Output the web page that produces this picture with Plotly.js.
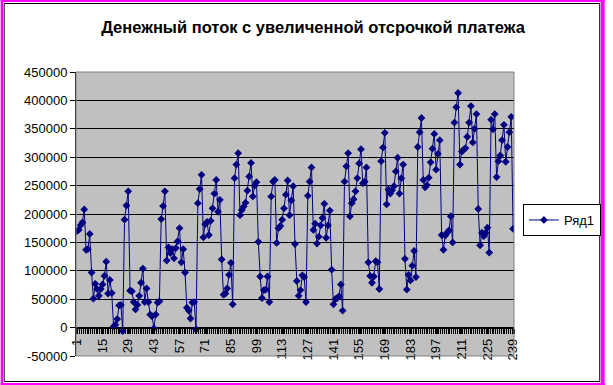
<!DOCTYPE html>
<html>
<head>
<meta charset="utf-8">
<script src="https://cdn.plot.ly/plotly-3.0.1.min.js"></script>
<style>
html,body{margin:0;padding:0;background:#fff;}
#chart{width:613px;height:385px;}
</style>
</head>
<body>
<div id="chart"></div>
<script>
const chartTitle = "Денежный поток с увеличенной отсрочкой платежа";
const seriesName = "Ряд1";

const values = [
  170000, 172000, 180000, 185000, 208000, 137000, 138000, 165000, 97000, 51000,
  77000, 68000, 56000, 68000, 76000, 91000, 116000, 60000, 84000, 61000,
  2000, 5000, 15000, 39000, 40000, -6000,
  190000, 215000, 240000, 65000, 64000, 45000, 32000, 40000, 56000, 79000,
  104000, 45000, 69000, 45000, 23000, 20000, -1000, 23000, 44000, 46000,
  191000, 214000, 240000, 118000, 141000, 131000, 138000, 122000, 140000, 152000,
  175000, 115000, 138000, 97000, 35000, 30000, 16000, 44000, 45000, -3000,
  219000, 244000, 269000, 159000, 182000, 186000, 163000, 188000, 210000, 236000,
  260000, 204000, 225000, 120000, 58000, 60000, 69000, 93000, 114000, 41000,
  263000, 287000, 307000, 198000, 207000, 213000, 220000, 241000, 266000, 290000,
  231000, 250000, 256000, 151000, 90000, 52000, 66000, 67000, 90000, 45000,
  231000, 257000, 260000, 149000, 175000, 179000, 190000, 210000, 234000, 259000,
  198000, 224000, 249000, 147000, 82000, 56000, 66000, 92000, 89000, 45000,
  232000, 257000, 282000, 172000, 183000, 148000, 160000, 180000, 193000, 218000,
  158000, 180000, 206000, 102000, 41000, 50000, 52000, 55000, 76000, 30000,
  257000, 284000, 307000, 196000, 219000, 226000, 240000, 263000, 289000, 314000,
  254000, 257000, 282000, 115000, 91000, 79000, 90000, 117000, 115000, 68000,
  293000, 317000, 343000, 217000, 243000, 236000, 242000, 249000, 275000, 299000,
  236000, 263000, 287000, 121000, 67000, 93000, 83000, 109000, 135000, 89000,
  318000, 344000, 369000, 260000, 247000, 251000, 264000, 291000, 315000, 341000,
  278000, 306000, 330000, 163000, 137000, 162000, 167000, 171000, 196000, 150000,
  361000, 388000, 413000, 287000, 310000, 313000, 316000, 336000, 361000, 390000,
  326000, 350000, 376000, 209000, 145000, 167000, 161000, 167000, 176000, 132000,
  366000, 349000, 376000, 265000, 293000, 303000, 330000, 357000, 292000, 318000,
  344000, 371000, 174000
];

const categories = values.map((v, i) => i + 1);
const yTickVals = [-50000, 0, 50000, 100000, 150000, 200000, 250000, 300000, 350000, 400000, 450000];
const yTickText = yTickVals.map(v => String(v));
const xFirstTick = 1, xTickStep = 14;
const yMin = yTickVals[0], yMax = yTickVals[yTickVals.length - 1];

const W = 613, H = 385;
const M = {l: 76, r: 95, t: 72, b: 29};
const pw = W - M.l - M.r, ph = H - M.t - M.b;
const px = v => (v - M.l) / pw;
const py = v => (H - M.b - v) / ph;
const FONT = 'Liberation Sans, Arial, sans-serif';

const trace = {
  x: categories, y: values, type: 'scatter', mode: 'lines+markers',
  name: seriesName,
  line: {color: '#000080', width: 1},
  marker: {symbol: 'diamond', size: 6, color: '#000080'}
};

const layout = {
  width: W, height: H, margin: M,
  paper_bgcolor: '#ffffff', plot_bgcolor: '#c0c0c0',
  font: {family: FONT, size: 13, color: '#000'},
  showlegend: true,
  title: {
    text: '<b>' + chartTitle + '</b>',
    font: {family: FONT, size: 16.5, color: '#000'},
    x: 313 / W, xref: 'container', xanchor: 'center',
    y: 1 - 27 / H, yref: 'container', yanchor: 'middle'
  },
  xaxis: {
    range: [0.5, categories.length + 0.5],
    anchor: 'free', position: (0 - yMin) / (yMax - yMin),
    showline: true, linecolor: '#000', linewidth: 1,
    tickmode: 'linear', tick0: xFirstTick, dtick: xTickStep,
    ticks: 'outside', ticklen: 5, tickcolor: '#000', tickwidth: 1,
    tickangle: -90, tickfont: {family: FONT, size: 13, color: '#000'},
    showgrid: false, zeroline: false,
    minor: {tickmode: 'linear', tick0: 0.5, dtick: 1, ticks: 'outside', ticklen: 5, tickcolor: '#000', tickwidth: 1, showgrid: false}
  },
  yaxis: {
    range: [yMin, yMax], tickmode: 'array', tickvals: yTickVals, ticktext: yTickText,
    showline: true, linecolor: '#000', linewidth: 1,
    ticks: 'outside', ticklen: 5, tickcolor: '#000',
    showgrid: true, gridcolor: '#000', gridwidth: 1,
    zeroline: false,
    tickfont: {family: FONT, size: 13, color: '#000'}
  },
  legend: {
    x: px(527), y: py(220), xanchor: 'left', yanchor: 'middle',
    bgcolor: '#fff', bordercolor: '#000', borderwidth: 1,
    font: {family: FONT, size: 13, color: '#000'},
    itemwidth: 30
  },
  shapes: [
    {type: 'rect', xref: 'paper', yref: 'paper', x0: 0, x1: 1, y0: 0, y1: 1,
     line: {color: '#808080', width: 1}, layer: 'above'},
    {type: 'rect', xref: 'paper', yref: 'paper', x0: px(3.5), x1: px(604.5), y0: py(3.5), y1: py(381.5),
     line: {color: '#000', width: 1}},
    {type: 'rect', xref: 'paper', yref: 'paper', x0: px(0), x1: px(2.5), y0: py(0), y1: py(385),
     fillcolor: '#ff00ff', line: {width: 0}},
    {type: 'rect', xref: 'paper', yref: 'paper', x0: px(605.5), x1: px(609.5), y0: py(0), y1: py(385),
     fillcolor: '#ff00ff', line: {width: 0}},
    {type: 'rect', xref: 'paper', yref: 'paper', x0: px(0), x1: px(609.5), y0: py(0), y1: py(2),
     fillcolor: '#ff00ff', line: {width: 0}},
    {type: 'rect', xref: 'paper', yref: 'paper', x0: px(0), x1: px(609.5), y0: py(383), y1: py(385),
     fillcolor: '#ff00ff', line: {width: 0}}
  ]
};

Plotly.newPlot('chart', [trace], layout, {staticPlot: true, displayModeBar: false});
</script>
</body>
</html>
